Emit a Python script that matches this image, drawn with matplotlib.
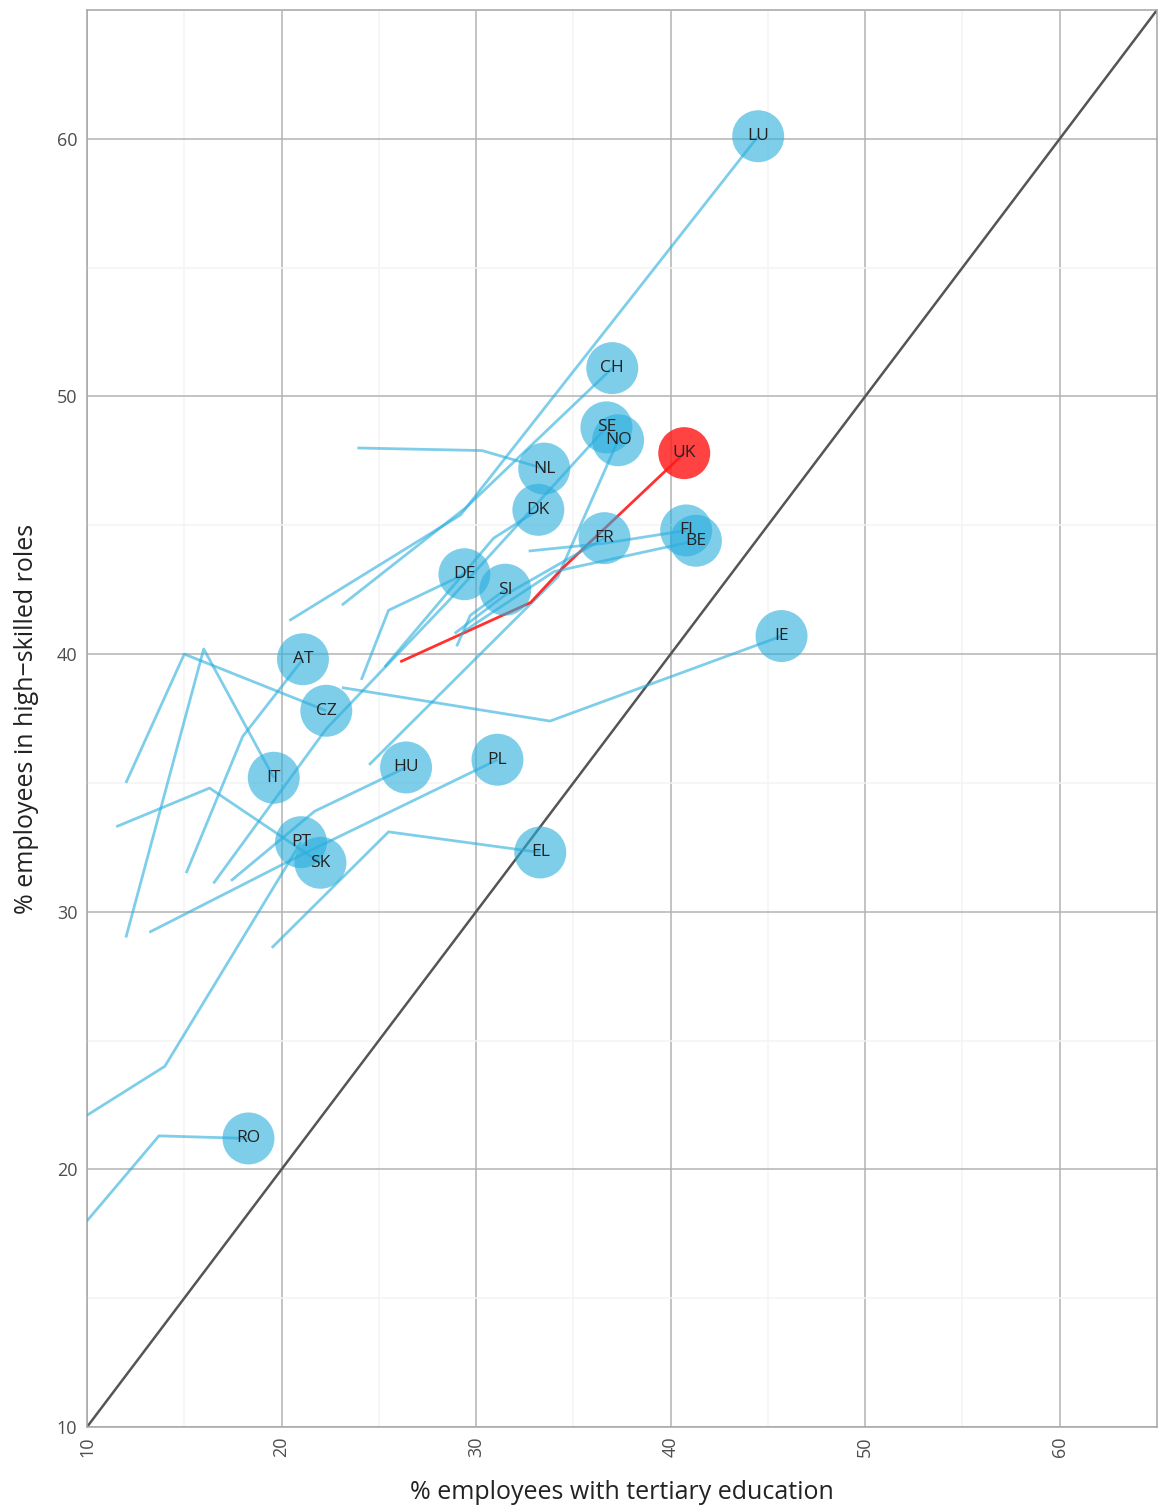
import matplotlib
matplotlib.use("Agg")
import matplotlib.pyplot as plt
import numpy as np

plt.rcParams['font.family'] = ['Open Sans', 'DejaVu Sans']

# country trajectories: x = % employees with tertiary education, y = % in high-skilled roles
countries = ["LU", "CH", "SE", "NO", "UK", "NL", "DK", "FR", "FI", "BE", "DE", "SI",
             "IE", "AT", "CZ", "IT", "HU", "PL", "PT", "SK", "EL", "RO"]
traj_x = {
    "LU": [20.4, 29.2, 44.5],
    "CH": [23.1, 29.5, 37.0],
    "SE": [16.5, 22.3, 28.5, 36.7],
    "NO": [24.5, 34.2, 37.3],
    "UK": [26.1, 32.8, 34.4, 40.7],
    "NL": [23.9, 30.3, 33.5],
    "DK": [25.3, 30.9, 33.2],
    "FR": [28.9, 31.5, 36.6],
    "FI": [32.7, 36.6, 40.8],
    "BE": [29.4, 34.0, 41.3],
    "DE": [24.1, 25.5, 29.4],
    "SI": [29.0, 29.7, 31.5],
    "IE": [23.1, 33.8, 45.7],
    "AT": [15.1, 18.0, 21.1],
    "CZ": [12.0, 15.0, 22.3],
    "IT": [12.0, 16.0, 19.6],
    "HU": [17.4, 21.7, 26.4],
    "PL": [13.2, 21.0, 31.1],
    "PT": [10.0, 14.0, 21.0],
    "SK": [11.5, 16.3, 22.0],
    "EL": [19.5, 25.5, 33.3],
    "RO": [10.0, 13.7, 18.3],
}
traj_y = {
    "LU": [41.3, 45.4, 60.1],
    "CH": [41.9, 45.7, 51.1],
    "SE": [31.1, 37.1, 42.0, 48.8],
    "NO": [35.7, 43.0, 48.3],
    "UK": [39.7, 42.0, 43.3, 47.8],
    "NL": [48.0, 47.9, 47.2],
    "DK": [39.5, 44.5, 45.6],
    "FR": [40.8, 42.3, 44.5],
    "FI": [44.0, 44.3, 44.8],
    "BE": [40.9, 43.2, 44.4],
    "DE": [39.0, 41.7, 43.1],
    "SI": [40.3, 41.5, 42.5],
    "IE": [38.7, 37.4, 40.7],
    "AT": [31.5, 36.8, 39.8],
    "CZ": [35.0, 40.0, 37.8],
    "IT": [29.0, 40.2, 35.2],
    "HU": [31.2, 33.9, 35.6],
    "PL": [29.2, 32.2, 35.9],
    "PT": [22.1, 24.0, 32.7],
    "SK": [33.3, 34.8, 31.9],
    "EL": [28.6, 33.1, 32.3],
    "RO": [18.0, 21.3, 21.2],
}
highlight = "UK"

x_ticks = [10, 20, 30, 40, 50, 60]
y_ticks = [10, 20, 30, 40, 50, 60]

blue = "#29AEDD"
red = "#FF1A1A"

fig = plt.figure(figsize=(11.58, 15.08), dpi=100)
ax = fig.add_axes([87/1158, 81/1508, 1070/1158, 1417/1508])

ax.set_xlim(10, 65)
ax.set_ylim(10, 65)

# grid
ax.set_xticks(x_ticks)
ax.set_yticks(y_ticks)
ax.set_xticks([15, 25, 35, 45, 55, 65], minor=True)
ax.set_yticks([15, 25, 35, 45, 55, 65], minor=True)
ax.grid(which='major', color='#b3b3b3', linewidth=1.1, zorder=0)
ax.grid(which='minor', color='#f4f4f4', linewidth=1.1, zorder=0)
ax.set_axisbelow(True)
for s in ax.spines.values():
    s.set_color('#a6a6a6')
    s.set_linewidth(1.1)

ax.tick_params(axis='both', which='both', length=0, labelsize=13, labelcolor='#4d4d4d', pad=7)
ax.tick_params(axis='x', labelrotation=90)

# diagonal
ax.plot([10, 65], [10, 65], color='#555555', linewidth=1.8, zorder=2)

# trajectories
for c in countries:
    col = red if c == highlight else blue
    a = 0.9 if c == highlight else 0.6
    ax.plot(traj_x[c], traj_y[c], color=col, alpha=a, linewidth=2.0, zorder=3,
            solid_capstyle='butt')

# end points
for c in countries:
    col = red if c == highlight else blue
    ax.scatter([traj_x[c][-1]], [traj_y[c][-1]], s=1400, color=col,
               alpha=0.82 if c == highlight else 0.6, edgecolors='none', zorder=4)
    ax.text(traj_x[c][-1], traj_y[c][-1], c, ha='center', va='center',
            fontsize=12.5, color='#222222', zorder=5)

ax.set_xlabel("% employees with tertiary education", fontsize=18, color='#222222', labelpad=16)
ax.set_ylabel("% employees in high\u2212skilled roles", fontsize=18, color='#222222', labelpad=13)

fig.savefig("out.png", dpi=100)
